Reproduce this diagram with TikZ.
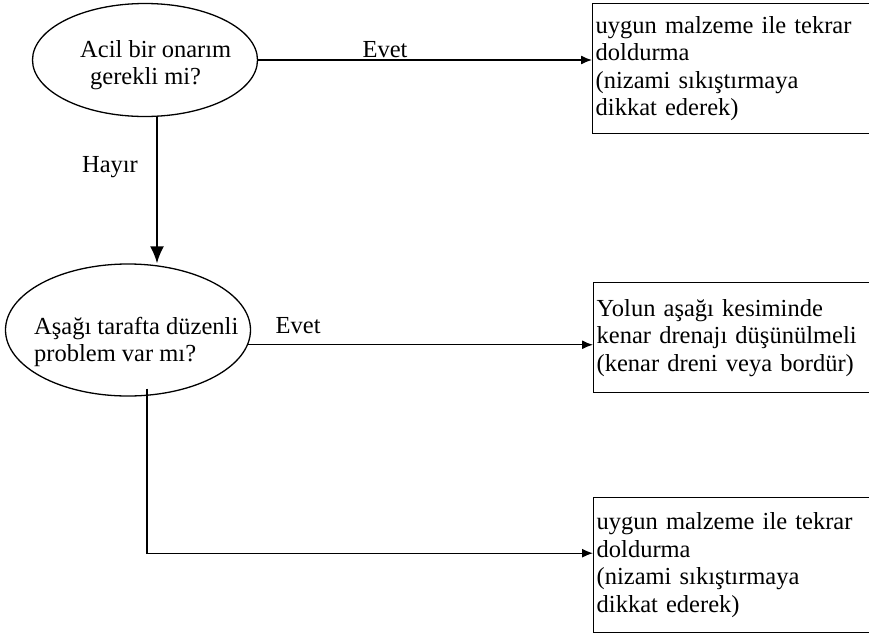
\documentclass[tikz,border=0pt]{standalone}
\usepackage{fontspec}
\setmainfont{Liberation Serif}
\usetikzlibrary{shapes.geometric,arrows.meta,calc}

\begin{document}
\begin{tikzpicture}[x=1pt,y=-1pt,
  every node/.style={font=\fontsize{24.5}{27.5}\selectfont},
  question/.style={draw, ellipse, line width=1.3pt, inner sep=0pt},
  qtext/.style={anchor=north west, inner sep=0pt, align=left},
  result/.style={draw, rectangle, line width=1.4pt, anchor=north west,
    inner xsep=3pt, inner ysep=0pt, text width=284pt, align=left},
  flow/.style={line width=1.3pt, -{Latex[length=11pt,width=9pt]}},
  down/.style={line width=2pt, -{Latex[length=17pt,width=14pt]}},
  tag/.style={inner sep=1.5pt}]
\clip (0,0) rectangle (869,643);

% decisions
\node[question, minimum width=225pt, minimum height=113pt] (q1) at (145,60) {};
\node[qtext] (q1text) at (80,40) {Acil bir onarım\\\hspace*{10pt}gerekli mi?};
\node[question, minimum width=245pt, minimum height=132pt] (q2) at (128,330) {};
\node[qtext] (q2text) at (34,317) {Aşağı tarafta düzenli\\problem var mı?};

% actions (right edges run off the page)
\node[result, minimum height=130pt] (r1) at (592,3)
  {uygun malzeme ile tekrar\\doldurma\\(nizami sıkıştırmaya\\dikkat ederek)};
\node[result, minimum height=110pt] (r2) at (593,282)
  {Yolun aşağı kesiminde\\kenar drenajı düşünülmeli\\(kenar dreni veya bordür)};
\node[result, minimum height=135pt] (r3) at (593,497)
  {uygun malzeme ile tekrar\\doldurma\\(nizami sıkıştırmaya\\dikkat ederek)};

% connectors
\coordinate (vx) at (157,0);
\coordinate (bx) at (147,0);
\draw[flow] (q1.east) -- (q1.east -| r1.west)
  node[tag, pos=0.38, above] (e1) {Evet};
\draw[down] (vx |- q1.south) -- (vx |- q2.north);
\node[tag] (h) at (110,167) {Hayır};
\draw[flow] (q2.-7) -- (q2.-7 -| r2.west)
  node[tag, pos=0.145, above=9pt] (e2) {Evet};
\draw[flow] ([yshift=8pt]bx |- q2.south) |- ([yshift=12pt]r3.west);
\end{tikzpicture}
\end{document}
